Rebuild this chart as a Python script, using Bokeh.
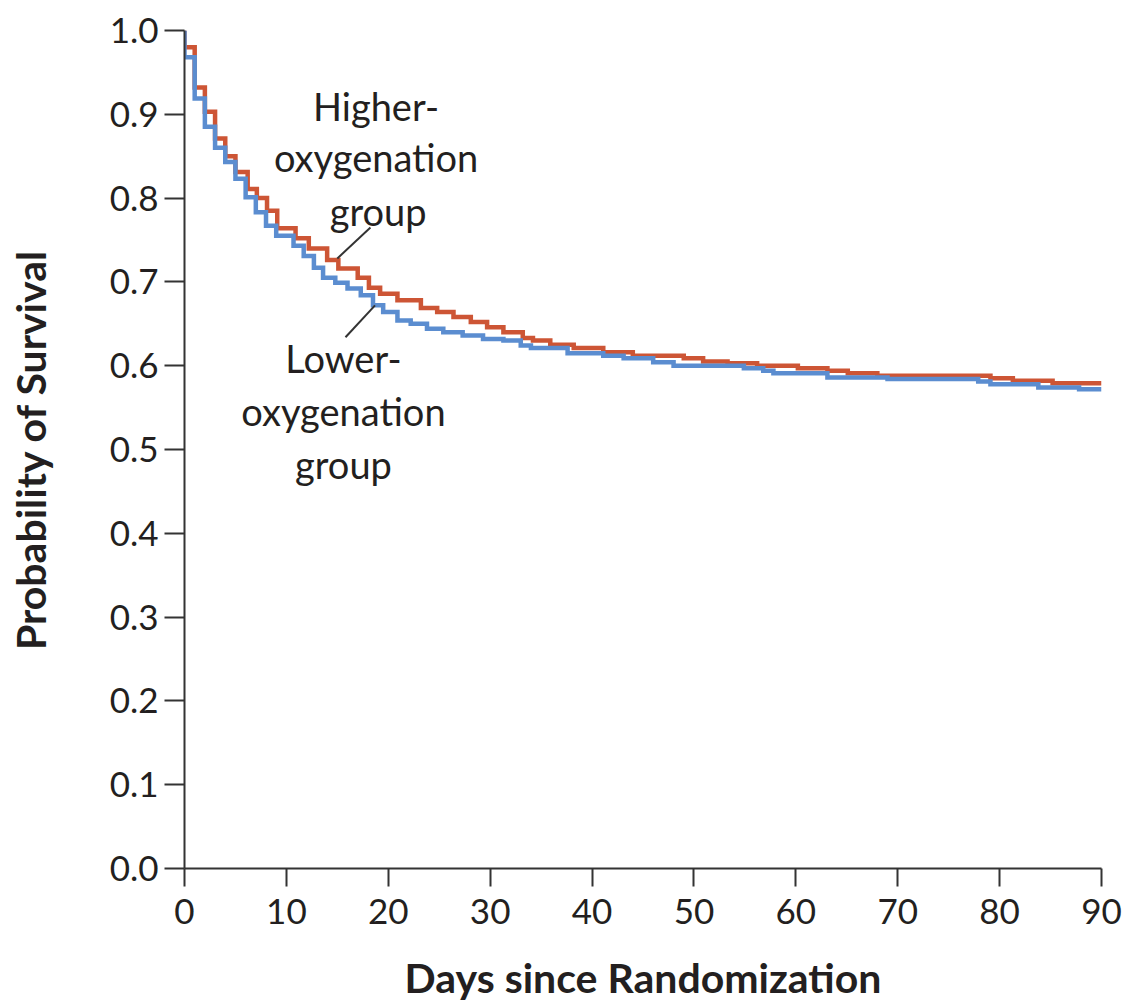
from bokeh.plotting import figure
from bokeh.models import Range1d, FixedTicker
from bokeh.core.properties import value
from bokeh.embed import file_html
from bokeh.resources import INLINE

# ---- data (Kaplan-Meier step curves) ----
higher_times = [0, 1.0, 2.0, 3.0, 4.0, 5.0, 6.2, 7.1, 8.1, 9.1, 10.9, 12.2, 14.0, 15.1,
                17.0, 18.1, 19.2, 20.9, 23.2, 24.8, 26.4, 28.1, 29.7, 31.3, 33.2, 34.2,
                35.9, 38.2, 41.1, 44.0, 49.0, 50.9, 53.3, 56.2, 60.2, 63.1, 65.1, 68.0,
                79.1, 81.3, 85.2]
higher_surv = [0.980, 0.932, 0.903, 0.871, 0.850, 0.831, 0.811, 0.800, 0.785, 0.764,
               0.752, 0.740, 0.726, 0.716, 0.705, 0.693, 0.686, 0.678, 0.669, 0.664,
               0.658, 0.652, 0.646, 0.640, 0.633, 0.630, 0.625, 0.621, 0.616, 0.612,
               0.609, 0.605, 0.603, 0.600, 0.597, 0.594, 0.591, 0.588, 0.585, 0.582,
               0.579]

lower_times = [0, 1.0, 2.0, 3.0, 4.0, 5.0, 6.0, 7.0, 8.0, 9.0, 10.7, 11.7, 12.7, 13.6,
               14.8, 16.0, 17.3, 18.5, 19.5, 20.9, 22.2, 23.8, 25.4, 27.3, 29.3, 31.3,
               33.0, 34.0, 37.6, 41.1, 43.1, 46.0, 48.0, 54.9, 56.8, 57.8, 63.1, 69.0,
               77.9, 79.1, 83.8, 87.8]
lower_surv = [0.968, 0.919, 0.885, 0.860, 0.843, 0.823, 0.801, 0.783, 0.767, 0.755,
              0.743, 0.731, 0.717, 0.705, 0.699, 0.692, 0.684, 0.672, 0.664, 0.654,
              0.650, 0.644, 0.640, 0.636, 0.632, 0.630, 0.624, 0.621, 0.615, 0.612,
              0.609, 0.604, 0.600, 0.597, 0.594, 0.591, 0.586, 0.584, 0.581, 0.578,
              0.574, 0.572]

x_ticks = [0, 10, 20, 30, 40, 50, 60, 70, 80, 90]
y_ticks = [0.0, 0.1, 0.2, 0.3, 0.4, 0.5, 0.6, 0.7, 0.8, 0.9, 1.0]
y_tick_labels = {t: f"{t:.1f}" for t in y_ticks}

higher_label = ["Higher-", "oxygenation", "group"]
higher_label_x = [18.8, 18.8, 19.0]
higher_label_y = [0.9105, 0.8485, 0.785]
lower_label = ["Lower-", "oxygenation", "group"]
lower_label_x = [15.6, 15.6, 15.6]
lower_label_y = [0.609, 0.5465, 0.483]

leader_x0 = [15.0, 18.7]
leader_y0 = [0.728, 0.672]
leader_x1 = [18.25, 15.8]
leader_y1 = [0.765, 0.634]

X_END = 90
RED = "#CD5535"
BLUE = "#5B8DD0"
INK = "#231F20"
FONT = "Lato"

p = figure(width=1127, height=1007, x_range=Range1d(0, X_END), y_range=Range1d(0, 1.0),
           output_backend="svg", toolbar_location=None,
           min_border_left=184, min_border_right=26, min_border_top=30,
           min_border_bottom=139)
p.outline_line_color = None
p.grid.visible = False
p.background_fill_color = "white"
p.border_fill_color = "white"

def km(times, surv):
    xs = [0] + list(times) + [X_END]
    ys = [1.0] + list(surv) + [surv[-1]]
    return xs, ys

hx, hy = km(higher_times, higher_surv)
lx, ly = km(lower_times, lower_surv)
p.step(hx, hy, mode="after", line_color=RED, line_width=4.5, line_join="miter")
p.step(lx, ly, mode="after", line_color=BLUE, line_width=4.5, line_join="miter")

p.segment(leader_x0, leader_y0, leader_x1, leader_y1, line_color="#333333", line_width=2)

p.text(higher_label_x, higher_label_y, text=higher_label, text_align="center",
       text_baseline="middle", text_font=value(FONT), text_font_size="38px",
       text_color=INK)
p.text(lower_label_x, lower_label_y, text=lower_label, text_align="center",
       text_baseline="middle", text_font=value(FONT), text_font_size="38px",
       text_color=INK)

for ax in (p.xaxis[0], p.yaxis[0]):
    ax.axis_line_color = "#333333"
    ax.axis_line_width = 2
    ax.major_tick_line_color = "#333333"
    ax.major_tick_line_width = 2
    ax.major_tick_in = 0
    ax.minor_tick_line_color = None
    ax.major_label_text_font = FONT
    ax.major_label_text_font_size = "35px"
    ax.major_label_text_color = INK
    ax.axis_label_text_font = FONT
    ax.axis_label_text_font_style = "bold"
    ax.axis_label_text_font_size = "41px"
    ax.axis_label_text_color = INK

p.xaxis.ticker = FixedTicker(ticks=x_ticks)
p.xaxis.major_tick_out = 18
p.xaxis.major_label_standoff = 12
p.xaxis.axis_label = "Days since Randomization"
p.xaxis.axis_label_standoff = 26

p.yaxis.ticker = FixedTicker(ticks=y_ticks)
p.yaxis.major_label_overrides = y_tick_labels
p.yaxis.major_tick_out = 20
p.yaxis.major_label_standoff = 6
p.yaxis.axis_label = "Probability of Survival"
p.yaxis.axis_label_standoff = 52

open("out.html", "w").write(file_html(p, INLINE))
